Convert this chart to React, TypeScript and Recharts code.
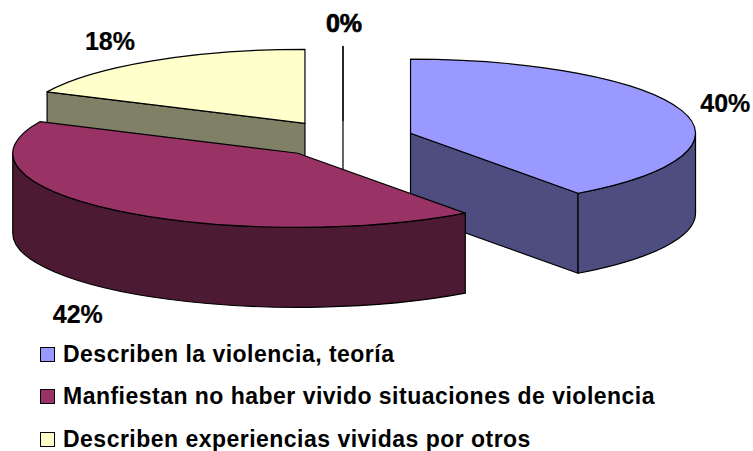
import { Legend, Pie, PieChart } from "recharts"

const categories = [
  "Describen la violencia, teoría",
  "Manfiestan no haber vivido situaciones de violencia",
  "Describen experiencias vividas por otros",
  "",
]
const values = [40, 42, 18, 0]
const colors = ["#9999ff", "#993366", "#ffffcc", "#ffffff"]
const sideColors = ["#4d4d80", "#4d1a33", "#808066", "#808080"]
const labelGapX = [46, 60, 79, 0]

// painted back to front, so the pie starts on the third slice
const paintOrder = [2, 3, 0, 1]
const data = paintOrder.map((i) => ({
  name: categories[i],
  value: values[i],
  fill: colors[i],
  side: sideColors[i],
  gap: labelGapX[i],
}))

const START = 90 - ((values[0] + values[1]) / 100) * 360
const SQUASH = 0.26
const DEPTH = 80
const EXPLODE = 71
const FONT = "'Liberation Sans', Arial, sans-serif"

const rad = (deg: number) => (deg * Math.PI) / 180

// recharts gives math angles, here 0 = 12 o'clock going clockwise
function Slice3D(props: any) {
  const { cx, cy, outerRadius: r, startAngle, endAngle, midAngle, fill, payload } = props
  let t0 = (((90 - startAngle) % 360) + 360) % 360
  if (360 - t0 < 1e-6 || t0 < 1e-6) t0 = 0
  const t1 = t0 + (startAngle - endAngle)
  const mid = rad(90 - midAngle)
  const rx = r
  const ry = r * SQUASH
  const ax = cx + Math.sin(mid) * EXPLODE
  const ay = cy - Math.cos(mid) * EXPLODE * SQUASH
  const pt = (t: number, dy = 0) => `${ax + Math.sin(rad(t)) * rx} ${ay - Math.cos(rad(t)) * ry + dy}`
  const face = (t: number) => `M${ax} ${ay}L${pt(t)}L${pt(t, DEPTH)}L${ax} ${ay + DEPTH}Z`

  const large = t1 - t0 > 180 ? 1 : 0
  const top = `M${ax} ${ay}L${pt(t0)}A${rx} ${ry} 0 ${large} 1 ${pt(t1)}Z`
  const w0 = Math.max(t0, 90)
  const w1 = Math.min(t1, 270)
  const wall =
    w1 > w0
      ? `M${pt(w0)}A${rx} ${ry} 0 0 1 ${pt(w1)}L${pt(w1, DEPTH)}A${rx} ${ry} 0 0 0 ${pt(w0, DEPTH)}Z`
      : null
  const showEnd = Math.sin(rad(t1)) > 1e-6 || t1 - t0 < 1e-6
  const showStart = -Math.sin(rad(t0)) > 1e-6

  const common = { fill: payload.side, stroke: "#000", strokeWidth: 1.2, strokeLinejoin: "round" as const }
  return (
    <g>
      {showStart && <path d={face(t0)} {...common} />}
      {showEnd && <path d={face(t1)} {...common} />}
      {wall && <path d={wall} {...common} />}
      <path d={top} fill={fill} stroke="#000" strokeWidth={1.2} strokeLinejoin="round" />
    </g>
  )
}

function sliceLabel(props: any) {
  const { cx, cy, outerRadius: r, midAngle, payload, value } = props
  const mid = rad(90 - midAngle)
  const s = Math.sin(mid)
  const c = Math.cos(mid)
  const x = cx + s * (EXPLODE + r + payload.gap) + (value === 0 ? 1 : 0)
  const y = cy - c * (EXPLODE * SQUASH + r * SQUASH + 23) + (c < 0 ? DEPTH + 6 : 0)
  return (
    <text
      x={x}
      y={y}
      textAnchor="middle"
      dominantBaseline="central"
      fontFamily={FONT}
      fontWeight="bold"
      fontSize={25}
      fill="#000"
      stroke="#000"
      strokeWidth={value === 0 ? 0.7 : 0.2}
    >
      {value}%
    </text>
  )
}

function LegendRows({ payload }: any) {
  const rows = categories.filter(Boolean).map((name) => (payload || []).find((p: any) => p.value === name))
  return (
    <div style={{ fontFamily: FONT, fontWeight: "bold", fontSize: 23, letterSpacing: 0.48, color: "#000" }}>
      {rows.filter(Boolean).map((p: any) => (
        <div key={p.value} style={{ display: "flex", alignItems: "center", height: 42.5, whiteSpace: "nowrap" }}>
          <span style={{ width: 13, height: 13, background: p.color, border: "1px solid #000", marginRight: 8 }} />
          {p.value}
        </div>
      ))}
    </div>
  )
}

export default function App() {
  return (
    <div style={{ position: "absolute", left: 0, top: 0, background: "#fff" }}>
      <PieChart width={753} height={451} margin={{ top: 0, right: 0, bottom: 0, left: 0 }}>
        <Pie
          data={data}
          dataKey="value"
          nameKey="name"
          cx={343}
          cy={139}
          outerRadius={285}
          startAngle={START}
          endAngle={START - 360}
          shape={Slice3D}
          label={sliceLabel}
          labelLine={false}
          isAnimationActive={false}
        />
        <Legend
          content={LegendRows}
          wrapperStyle={{ position: "absolute", left: 40, top: 333, width: 700, bottom: "auto" }}
        />
      </PieChart>
    </div>
  )
}
